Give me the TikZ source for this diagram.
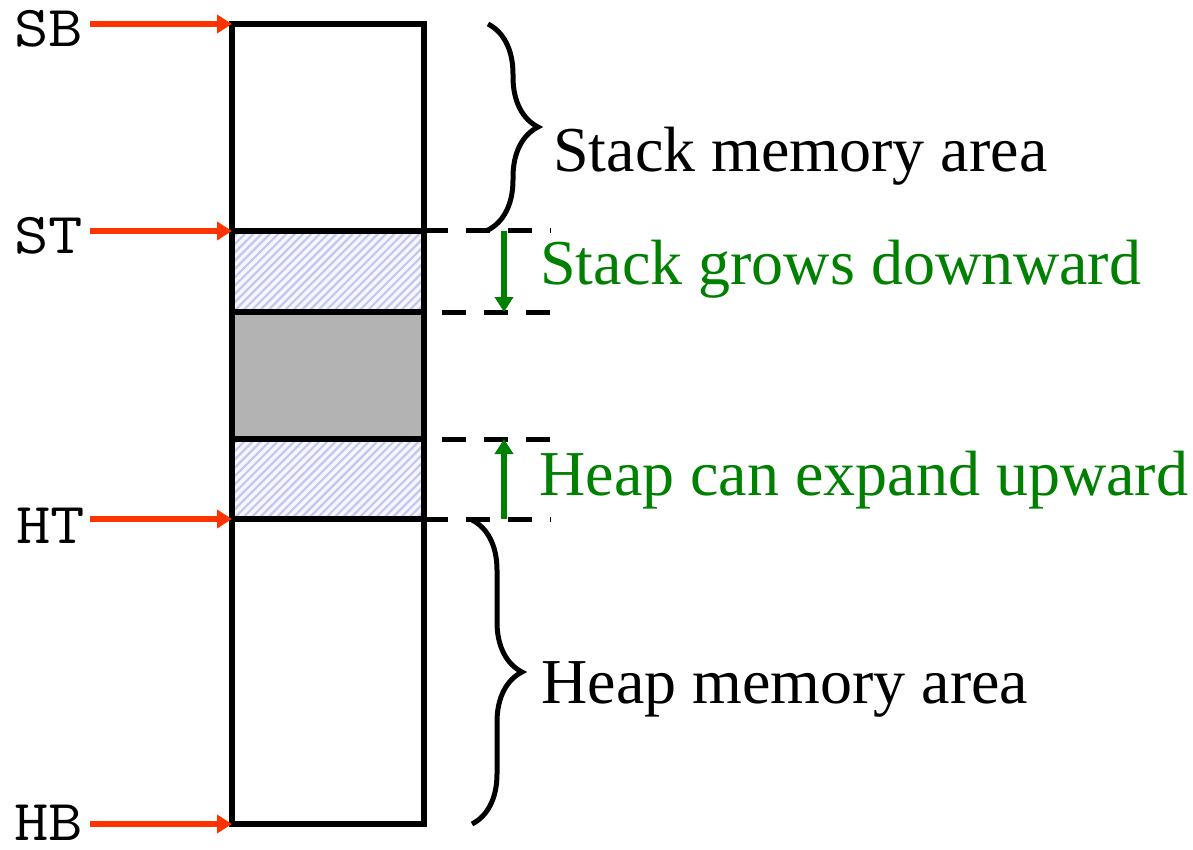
\documentclass[tikz,border=0pt]{standalone}
\usepackage{fontspec}
\setmainfont{Liberation Serif}
\newfontfamily\ptrfont{Latin Modern Mono}[FakeStretch=1.15]
\usetikzlibrary{arrows.meta,decorations.pathreplacing}
\definecolor{ptr}{HTML}{FF3300}
\definecolor{grow}{HTML}{008000}
\definecolor{hatchbg}{HTML}{F6F6FF}
\definecolor{hatchln}{HTML}{C6C6EE}
\definecolor{gapgray}{HTML}{B3B3B3}
\begin{document}
\begin{tikzpicture}[x=0.5pt,y=-0.5pt,
  boxline/.style={line width=3pt, line cap=rect},
  dline/.style={line width=2.5pt, dash pattern=on 12pt off 9pt},
  hatchline/.style={draw=hatchln, line width=1.1pt},
  ptrarrow/.style={draw=ptr, line width=2.6pt, -{Triangle[length=7.5pt,width=9pt]}},
  growarrow/.style={draw=grow, line width=2.8pt, -{Triangle[length=7.5pt,width=9pt]}},
  bracestyle/.style={line width=2.5pt, decorate, decoration={brace, amplitude=25pt}},
  ptrlabel/.style={anchor=base west, inner sep=0pt, font=\ptrfont\fontsize{29}{34}\selectfont},
  blabel/.style={anchor=base west, inner sep=0pt, font=\fontsize{32}{38}\selectfont},
  glabel/.style={blabel, text=grow}]
\useasboundingbox (0,0) rectangle (1193,850);

% region fills
\fill[hatchbg] (232,231) rectangle (424,312);
\fill[hatchbg] (232,439) rectangle (424,519);
\fill[gapgray] (232,312) rectangle (424,439);
\begin{scope}
  \clip (232,231) rectangle (424,312);
  \foreach \k in {-90,-81.7,...,200} \draw[hatchline] ({232+\k},312) -- ++(90,-90);
\end{scope}
\begin{scope}
  \clip (232,439) rectangle (424,519);
  \foreach \k in {-90,-81.7,...,200} \draw[hatchline] ({232+\k},519) -- ++(90,-90);
\end{scope}

% memory column
\coordinate (sb) at (232,24);
\coordinate (st) at (232,231);
\coordinate (ht) at (232,519);
\coordinate (hb) at (232,824);
\draw[boxline] (232,24) rectangle (424,824);
\draw[boxline] (232,231) -- (424,231);
\draw[boxline] (232,312) -- (424,312);
\draw[boxline] (232,439) -- (424,439);
\draw[boxline] (232,519) -- (424,519);

% dashed extensions
\draw[dline] (424,231) -- (551,231);
\draw[dline, dash phase=12pt] (424,312) -- (551,312);
\draw[dline, dash phase=12pt] (424,439) -- (551,439);
\draw[dline] (424,519) -- (551,519);

% braces
\draw[bracestyle] (488,24) -- (488,230);
\draw[bracestyle] (472,520) -- (472,824);

% pointer labels and arrows
\node[ptrlabel] (lSB) at (14,47) {SB};
\node[ptrlabel] (lST) at (14,254) {ST};
\node[ptrlabel] (lHT) at (16,543) {HT};
\node[ptrlabel] (lHB) at (14,840) {HB};
\coordinate (sbS) at (90,24);
\coordinate (stS) at (90,231);
\coordinate (htS) at (90,519);
\coordinate (hbS) at (90,824);
\draw[ptrarrow] (sbS) -- (sb);
\draw[ptrarrow] (stS) -- (st);
\draw[ptrarrow] (htS) -- (ht);
\draw[ptrarrow] (hbS) -- (hb);

% growth arrows
\coordinate (g1a) at (504,231);
\coordinate (g1b) at (504,312);
\coordinate (g2a) at (504,519);
\coordinate (g2b) at (504,439);
\draw[growarrow] (g1a) -- (g1b);
\draw[growarrow] (g2a) -- (g2b);

% text
\node[blabel] (tStack) at (553,172) {Stack memory area};
\node[glabel] (tGrow) at (540,285) {Stack grows downward};
\node[glabel] (tExp) at (539,495) {Heap can expand upward};
\node[blabel] (tHeap) at (541,703) {Heap memory area};
\end{tikzpicture}
\end{document}
